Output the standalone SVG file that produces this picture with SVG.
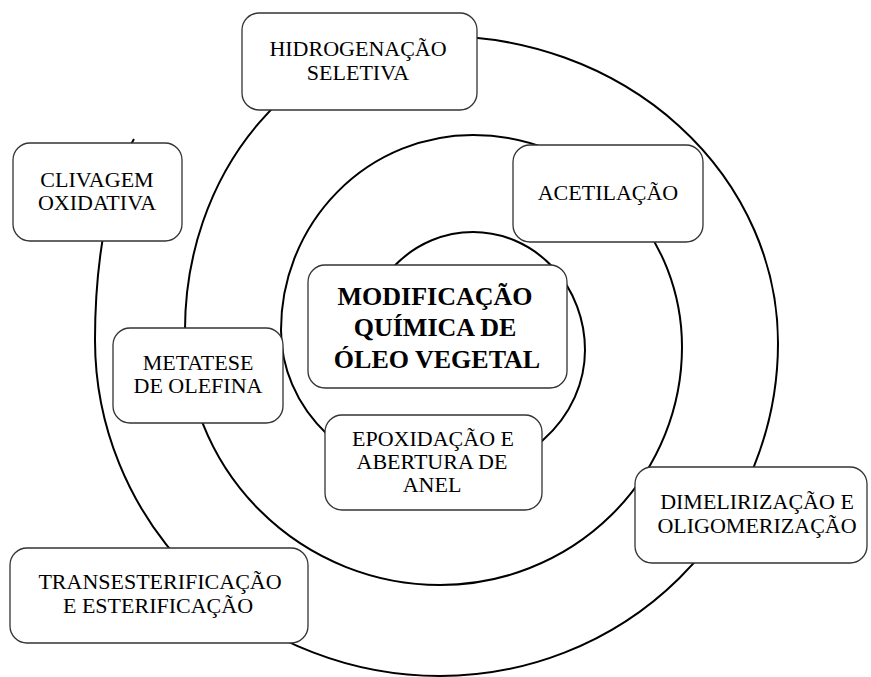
<svg xmlns="http://www.w3.org/2000/svg" width="871" height="677" viewBox="0 0 871 677">
<style>
.box{fill:#fff;stroke:#333;stroke-width:1.3}
.t{font-family:"Liberation Serif","Times New Roman",serif;font-size:22px;fill:#000;text-anchor:middle}
.b{font-weight:bold;font-size:26px}
.sp{fill:none;stroke:#000;stroke-width:2}
</style>
<rect width="871" height="677" fill="#fff"/>
<g id="connectors">
<path class="sp" d="M 361 350 A 112 118 0 0 1 473 232 A 112 118 0 0 1 585 350 A 145 128 0 0 1 440 478 A 159 148 0 0 1 281 330 A 192 195 0 0 1 473 135 A 209 212 0 0 1 682 347 A 242 238 0 0 1 440 585 A 255 255 0 0 1 185 330 A 255 294 0 0 1 440 36 A 338 307 0 0 1 778 343 A 338 333 0 0 1 440 676 A 345 336 0 0 1 95 340 C 95 250 112 175 134 139"/>
</g>
<g id="hidrogenacao">
<rect class="box" x="242" y="13" width="235" height="97" rx="17"/>
<text class="t" x="358" y="56">HIDROGENAÇÃO</text>
<text class="t" x="358" y="80">SELETIVA</text>
</g>
<g id="clivagem">
<rect class="box" x="13" y="143" width="169" height="98" rx="17"/>
<text class="t" x="97" y="187">CLIVAGEM</text>
<text class="t" x="97" y="210">OXIDATIVA</text>
</g>
<g id="acetilacao">
<rect class="box" x="513" y="145" width="190" height="97" rx="17"/>
<text class="t" x="608" y="200">ACETILAÇÃO</text>
</g>
<g id="central">
<rect class="box" x="308" y="265" width="259" height="123" rx="17"/>
<text class="t b" x="435" y="305">MODIFICAÇÃO</text>
<text class="t b" x="435" y="336">QUÍMICA DE</text>
<text class="t b" x="437" y="368">ÓLEO VEGETAL</text>
</g>
<g id="metatese">
<rect class="box" x="113" y="328" width="170" height="95" rx="17"/>
<text class="t" x="198" y="370">METATESE</text>
<text class="t" x="198" y="393">DE OLEFINA</text>
</g>
<g id="epoxidacao">
<rect class="box" x="325" y="415" width="217" height="95" rx="17"/>
<text class="t" x="433" y="446">EPOXIDAÇÃO E</text>
<text class="t" x="432" y="469">ABERTURA DE</text>
<text class="t" x="432" y="492">ANEL</text>
</g>
<g id="dimelirizacao">
<rect class="box" x="635" y="467" width="232" height="96" rx="17"/>
<text class="t" x="757" y="509">DIMELIRIZAÇÃO E</text>
<text class="t" x="757" y="533">OLIGOMERIZAÇÃO</text>
</g>
<g id="transesterificacao">
<rect class="box" x="10" y="548" width="298" height="95" rx="17"/>
<text class="t" x="160" y="589">TRANSESTERIFICAÇÃO</text>
<text class="t" x="158" y="613">E ESTERIFICAÇÃO</text>
</g>
</svg>
